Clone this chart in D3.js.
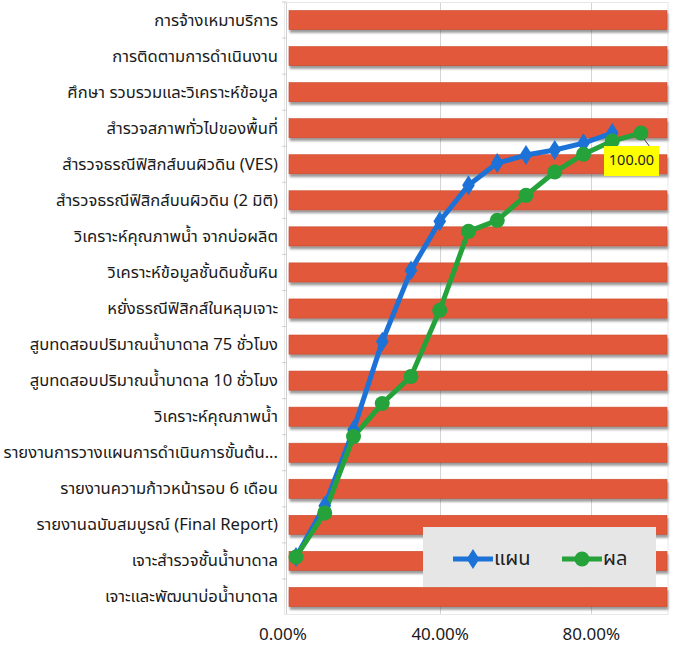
<!DOCTYPE html>
<html>
<head>
<meta charset="utf-8">
<script src="https://cdn.jsdelivr.net/npm/d3@7"></script>
<style>
  html, body { margin: 0; padding: 0; background: #ffffff; }
  svg { display: block; }
  text { font-family: "Noto Sans Thai", Tahoma, "Leelawadee UI", "Noto Sans", "DejaVu Sans", sans-serif; }
</style>
</head>
<body>
<svg id="chart" width="675" height="648"></svg>
<script>
// Work items (top to bottom) and their bar values (share of scope)
const categories = [
  "การจ้างเหมาบริการ",
  "การติดตามการดำเนินงาน",
  "ศึกษา รวบรวมและวิเคราะห์ข้อมูล",
  "สำรวจสภาพทั่วไปของพื้นที่",
  "สำรวจธรณีฟิสิกส์บนผิวดิน (VES)",
  "สำรวจธรณีฟิสิกส์บนผิวดิน (2 มิติ)",
  "วิเคราะห์คุณภาพน้ำ จากบ่อผลิต",
  "วิเคราะห์ข้อมูลชั้นดินชั้นหิน",
  "หยั่งธรณีฟิสิกส์ในหลุมเจาะ",
  "สูบทดสอบปริมาณน้ำบาดาล 75 ชั่วโมง",
  "สูบทดสอบปริมาณน้ำบาดาล 10 ชั่วโมง",
  "วิเคราะห์คุณภาพน้ำ",
  "รายงานการวางแผนการดำเนินการขั้นต้น...",
  "รายงานความก้าวหน้ารอบ 6 เดือน",
  "รายงานฉบับสมบูรณ์ (Final Report)",
  "เจาะสำรวจชั้นน้ำบาดาล",
  "เจาะและพัฒนาบ่อน้ำบาดาล"
];
const barValues = [1, 1, 1, 1, 1, 1, 1, 1, 1, 1, 1, 1, 1, 1, 1, 1, 1];

// Bottom axis ticks
const xTicks = [0, 0.4, 0.8];

// Cumulative progress curves (percent) by reporting period
const periods = [1, 2, 3, 4, 5, 6, 7, 8, 9, 10, 11, 12, 13];
const planValues = [0, 12.1, 30.0, 50.8, 67.6, 79.2, 87.7, 92.9, 94.8, 96.0, 97.6, 100];
const actualValues = [0, 10.4, 28.4, 36.2, 42.6, 58.2, 76.8, 79.4, 85.3, 90.8, 95.0, 98.1, 100];
const seriesNames = ["แผน", "ผล"];

const svg = d3.select("#chart");

const defs = svg.append("defs");
const shadow = defs.append("filter").attr("id", "barShadow")
  .attr("x", "-5%").attr("y", "-30%").attr("width", "110%").attr("height", "180%");
shadow.append("feDropShadow")
  .attr("dx", 1).attr("dy", 3).attr("stdDeviation", 1.3)
  .attr("flood-color", "#4a4a4a").attr("flood-opacity", 0.55);

// Primary (bar) scales
const x = d3.scaleLinear().domain([0, 1]).range([289, 667]);
const y = d3.scaleBand().domain(categories).range([2, 615])
  .paddingInner(0.47).paddingOuter(0.235);

// Plot frame
svg.append("rect")
  .attr("x", 284.5).attr("y", 2.5).attr("width", 383.5).attr("height", 612)
  .attr("fill", "none").attr("stroke", "#e8e8e8").attr("stroke-width", 1);

// Vertical gridlines
svg.append("g")
  .selectAll("line")
  .data(xTicks.filter(d => d > 0))
  .join("line")
  .attr("x1", d => Math.round(x(d)) + 0.5).attr("x2", d => Math.round(x(d)) + 0.5)
  .attr("y1", 3).attr("y2", 614)
  .attr("stroke", "#d4d4d4").attr("stroke-width", 1);

// Category axis line with ticks between items
const yAxis = svg.append("g");
yAxis.append("line")
  .attr("x1", 286.5).attr("x2", 286.5).attr("y1", 3).attr("y2", 614)
  .attr("stroke", "#d0d0d0");
yAxis.selectAll("line.tick")
  .data(categories)
  .join("line").attr("class", "tick")
  .attr("x1", 282).attr("x2", 286.5)
  .attr("y1", d => y(d) - y.step() * y.paddingInner() / 2)
  .attr("y2", d => y(d) - y.step() * y.paddingInner() / 2)
  .attr("stroke", "#d0d0d0");

// Bars
svg.append("g")
  .selectAll("rect")
  .data(categories.map((c, i) => ({ c, v: barValues[i] })))
  .join("rect")
  .attr("x", x(0))
  .attr("y", d => y(d.c))
  .attr("width", d => x(d.v) - x(0))
  .attr("height", y.bandwidth())
  .attr("fill", "#e2593a")
  .attr("stroke", "#c94a2c").attr("stroke-width", 0.6)
  .attr("filter", "url(#barShadow)");

// Category labels
svg.append("g")
  .selectAll("text")
  .data(categories)
  .join("text")
  .attr("x", 278)
  .attr("y", d => y(d) + y.bandwidth() / 2)
  .attr("text-anchor", "end")
  .attr("dominant-baseline", "central")
  .attr("font-size", 16.6)
  .attr("fill", "#1a1a1a")
  .text(d => d);

// Bottom tick labels
svg.append("g")
  .selectAll("text")
  .data(xTicks)
  .join("text")
  .attr("x", d => x(d) - (d === 0 ? 6 : 0))
  .attr("y", 640)
  .attr("text-anchor", "middle")
  .attr("font-size", 17)
  .attr("fill", "#1a1a1a")
  .text(d => d3.format(".2%")(d));

// Secondary scales for the progress curves
const xp = d3.scalePoint().domain(periods).range([296, 641]);
const yp = d3.scaleLinear().domain([0, 100]).range([557, 133]);

const line = d3.line().x((d, i) => xp(periods[i])).y(d => yp(d));

const blue = "#1c72d6";
const green = "#25a23a";

svg.append("path").datum(planValues)
  .attr("d", line).attr("fill", "none")
  .attr("stroke", blue).attr("stroke-width", 5).attr("stroke-linejoin", "round");

svg.append("path").datum(actualValues)
  .attr("d", line).attr("fill", "none")
  .attr("stroke", green).attr("stroke-width", 5).attr("stroke-linejoin", "round");

const diamond = d3.symbol().type(d3.symbolDiamond).size(115);

svg.append("g").selectAll("path")
  .data(planValues)
  .join("path")
  .attr("d", diamond)
  .attr("transform", (d, i) => `translate(${xp(periods[i])},${yp(d)}) scale(1.1,1)`)
  .attr("fill", blue);

svg.append("g").selectAll("circle")
  .data(actualValues)
  .join("circle")
  .attr("cx", (d, i) => xp(periods[i]))
  .attr("cy", d => yp(d))
  .attr("r", 7.5)
  .attr("fill", green);

// Data label on the final actual value
const lastI = actualValues.length - 1;
const lx = xp(periods[lastI]), ly = yp(actualValues[lastI]);
svg.append("line")
  .attr("x1", lx + 3).attr("y1", ly + 6)
  .attr("x2", lx + 9).attr("y2", ly + 14)
  .attr("stroke", "#444").attr("stroke-width", 1);
const lbl = svg.append("g").attr("transform", `translate(${lx - 37},${ly + 13})`);
lbl.append("rect").attr("width", 55).attr("height", 30).attr("fill", "#ffff00");
lbl.append("text")
  .attr("x", 27.5).attr("y", 15)
  .attr("text-anchor", "middle").attr("dominant-baseline", "central")
  .attr("font-size", 14.5).attr("fill", "#222")
  .text(d3.format(".2f")(actualValues[lastI]));

// Legend
const legend = svg.append("g").attr("transform", "translate(423,527)");
legend.append("rect").attr("width", 233).attr("height", 60).attr("fill", "#e6e6e6");
const entries = [
  { name: seriesNames[0], color: blue, shape: "diamond", x: 30 },
  { name: seriesNames[1], color: green, shape: "circle", x: 139 }
];
entries.forEach(e => {
  const g = legend.append("g").attr("transform", `translate(${e.x},32)`);
  g.append("line").attr("x1", 0).attr("x2", 40).attr("y1", 0).attr("y2", 0)
    .attr("stroke", e.color).attr("stroke-width", 5);
  if (e.shape === "diamond") {
    g.append("path").attr("d", diamond).attr("transform", "translate(20,0) scale(1.1,1)").attr("fill", e.color);
  } else {
    g.append("circle").attr("cx", 20).attr("cy", 0).attr("r", 7.5).attr("fill", e.color);
  }
  g.append("text").attr("x", 41).attr("y", 0)
    .attr("dominant-baseline", "central")
    .attr("font-size", 20).attr("fill", "#222")
    .text(e.name);
});
</script>
</body>
</html>
